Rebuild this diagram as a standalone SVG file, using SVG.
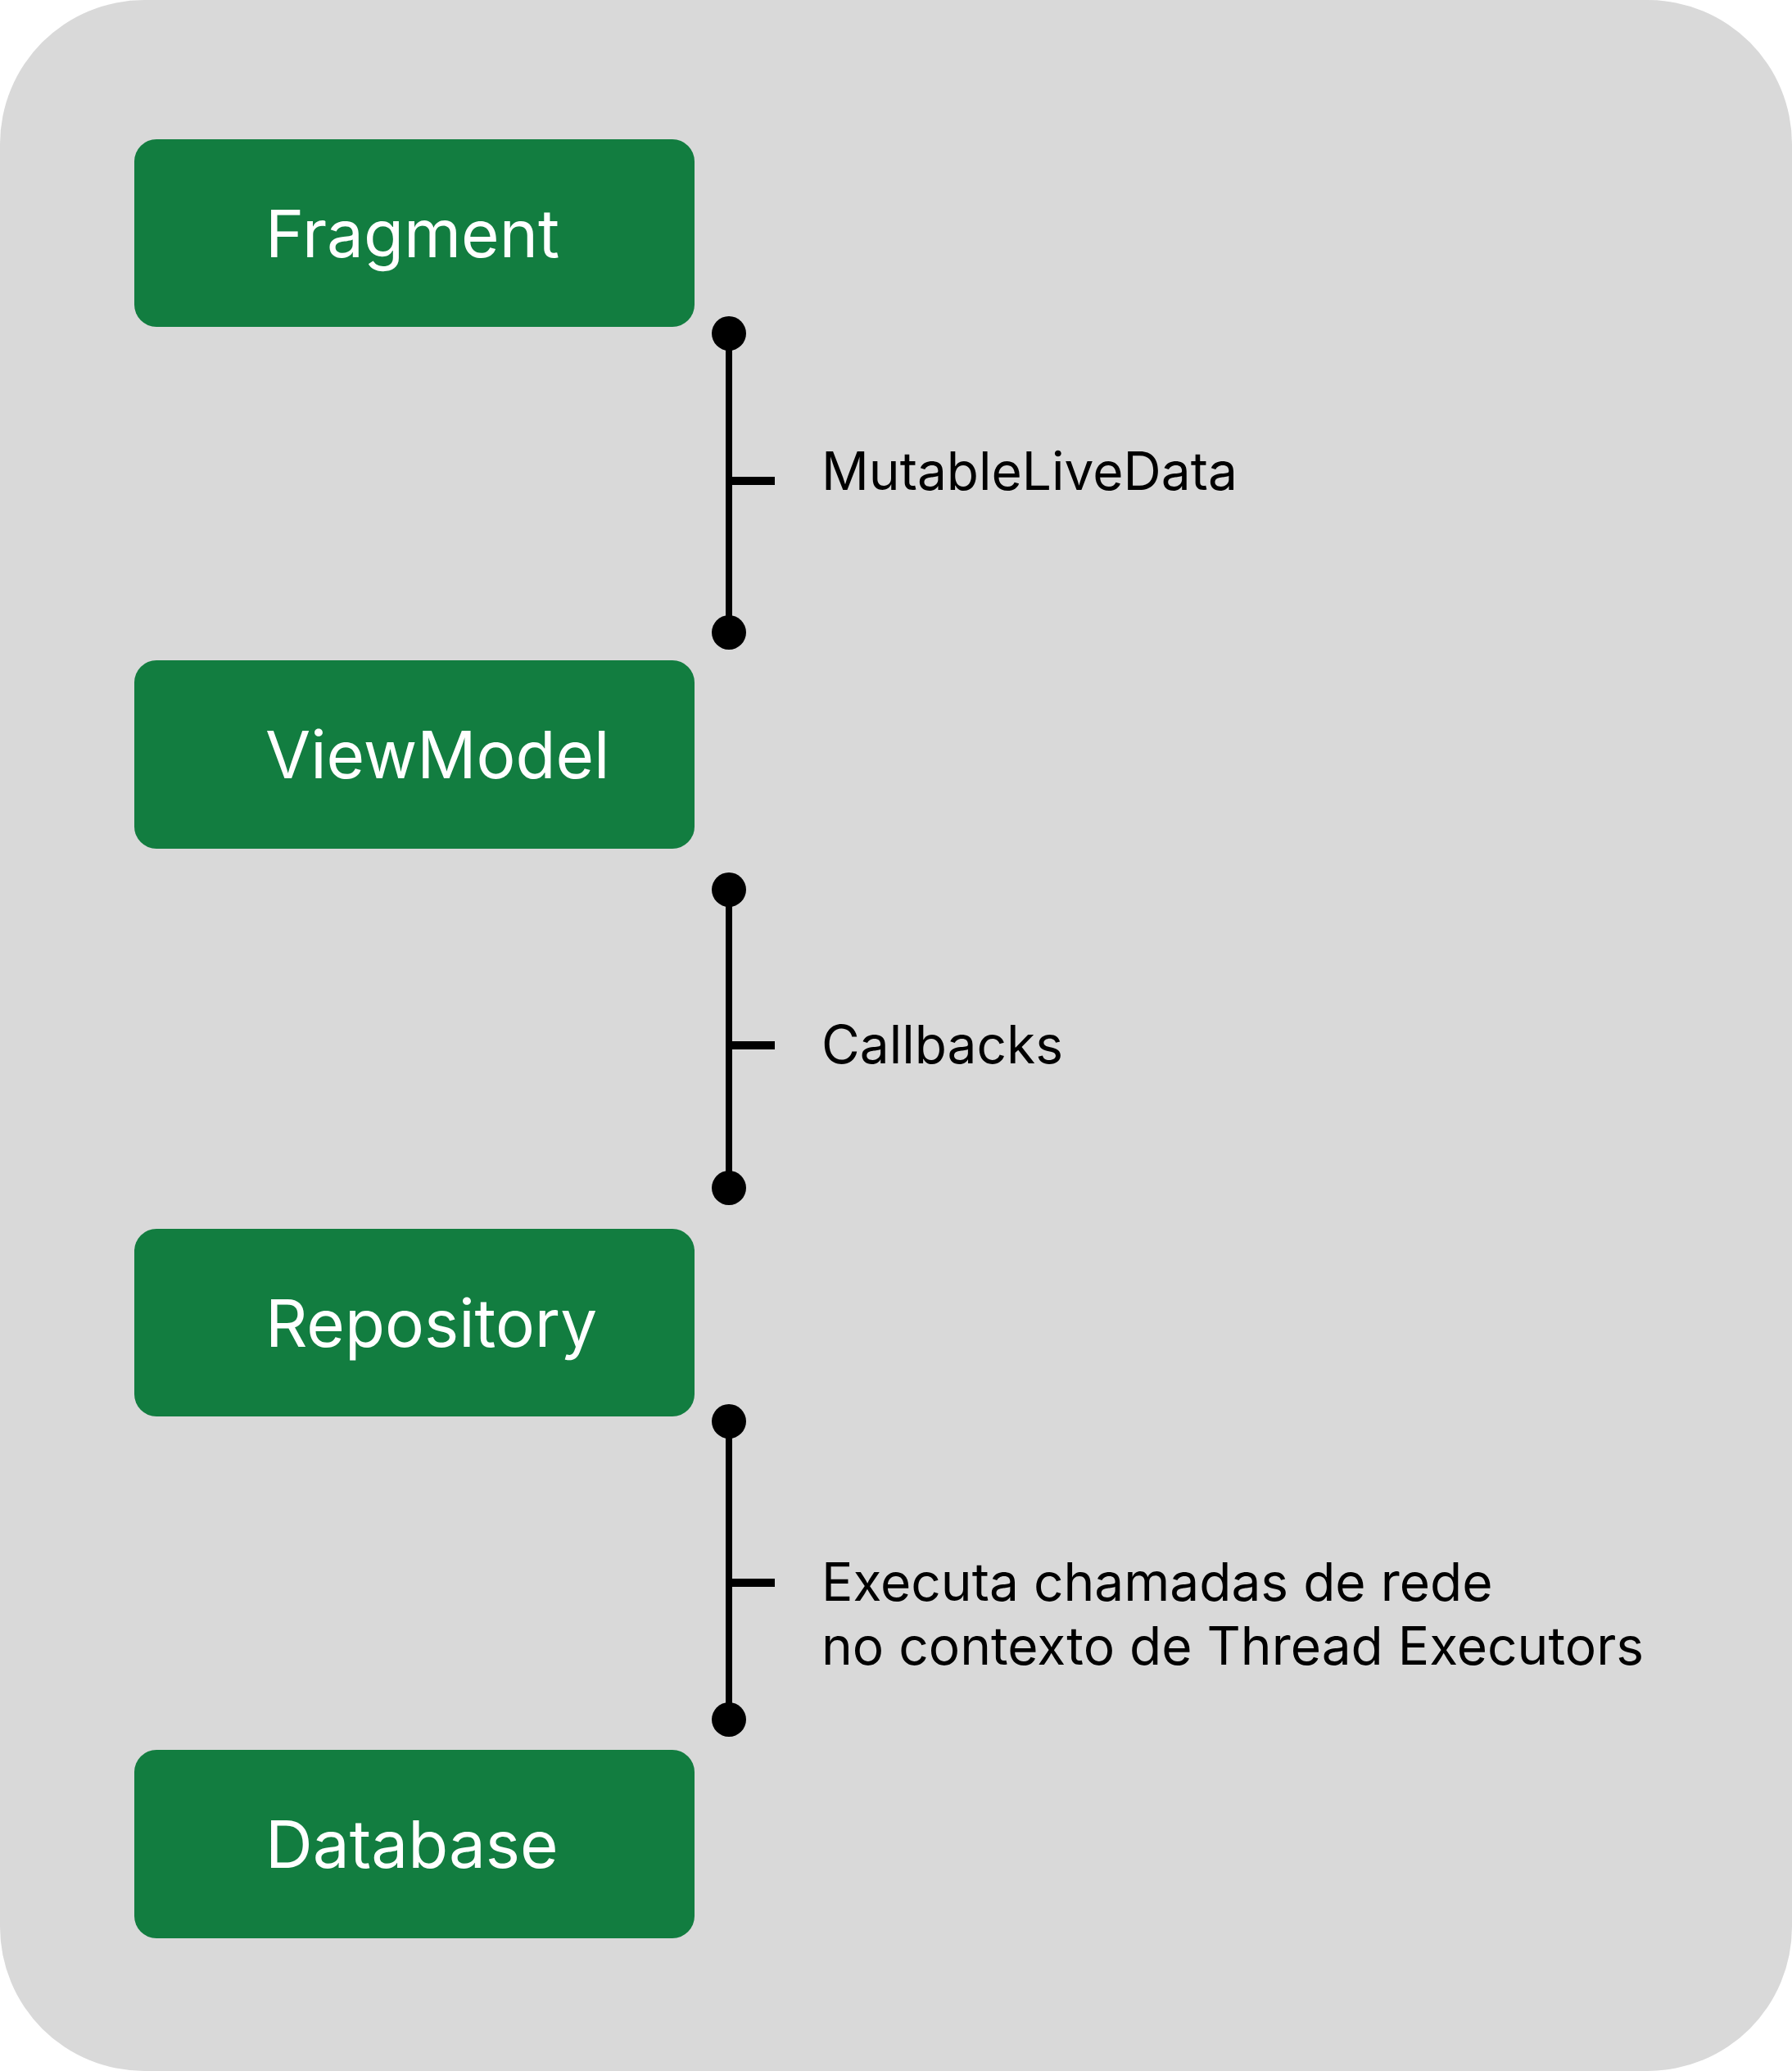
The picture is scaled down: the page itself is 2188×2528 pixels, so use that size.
<svg xmlns="http://www.w3.org/2000/svg" width="2188" height="2528" viewBox="0 0 2188 2528">
<style>
.box{fill:#127D40}
.name{font-family:Inter,"Liberation Sans",sans-serif;font-size:80px;fill:#FFFFFF}
.lbl{font-family:Inter,"Liberation Sans",sans-serif;font-size:64px;fill:#000000}
.ln{stroke:#000;stroke-width:8;fill:none}
.tk{stroke:#000;stroke-width:10;fill:none}
.dot{fill:#000}
</style>
<rect x="0" y="0" width="2188" height="2528" rx="176" ry="176" fill="#D9D9D9"/>
<g id="fragment">
<rect class="box" x="164" y="170" width="684" height="229" rx="27"/>
<text class="name" x="324" y="314">Fragment</text>
</g>
<g id="viewmodel">
<rect class="box" x="164" y="806" width="684" height="230" rx="27"/>
<text class="name" x="324" y="950">ViewModel</text>
</g>
<g id="repository">
<rect class="box" x="164" y="1500" width="684" height="229" rx="27"/>
<text class="name" x="324" y="1644">Repository</text>
</g>
<g id="database">
<rect class="box" x="164" y="2136" width="684" height="230" rx="27"/>
<text class="name" x="324" y="2280">Database</text>
</g>
<g id="connectors">
<line class="ln" x1="890" y1="407" x2="890" y2="772"/>
<line class="tk" x1="890" y1="587" x2="946" y2="587"/>
<circle class="dot" cx="890" cy="407" r="21"/>
<circle class="dot" cx="890" cy="772" r="21"/>
<text class="lbl" x="1003" y="598">MutableLiveData</text>

<line class="ln" x1="890" y1="1086" x2="890" y2="1450"/>
<line class="tk" x1="890" y1="1276" x2="946" y2="1276"/>
<circle class="dot" cx="890" cy="1086" r="21"/>
<circle class="dot" cx="890" cy="1450" r="21"/>
<text class="lbl" x="1003" y="1298">Callbacks</text>

<line class="ln" x1="890" y1="1735" x2="890" y2="2099"/>
<line class="tk" x1="890" y1="1932" x2="946" y2="1932"/>
<circle class="dot" cx="890" cy="1735" r="21"/>
<circle class="dot" cx="890" cy="2099" r="21"/>
<text class="lbl" x="1003" y="1954">Executa chamadas de rede</text>
<text class="lbl" x="1003" y="2032">no contexto de Thread Executors</text>
</g>
</svg>
